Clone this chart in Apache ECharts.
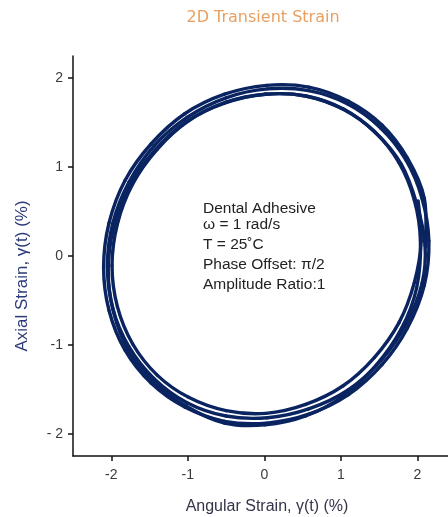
<!DOCTYPE html>
<html>
<head>
<meta charset="utf-8">
<script src="https://cdn.jsdelivr.net/npm/echarts@6/dist/echarts.min.js"></script>
<style>
  html, body { margin: 0; padding: 0; background: #ffffff; }
  #chart { width: 448px; height: 517px; }
</style>
</head>
<body>
<div id="chart"></div>
<script>
// Successive strain cycles, angular (x) and axial (y) strain in %
const angularCycle1 = [2.11, 2.09, 1.87, 1.54, 1.10, 0.58, 0.03, -0.52, -1.04, -1.48, -1.82, -2.03, -2.10, -2.03, -1.82, -1.48, -1.04, -0.52, 0.03, 0.58, 1.10, 1.54, 1.87, 2.09];
const axialCycle1   = [0.10, 0.65, 1.10, 1.47, 1.74, 1.90, 1.92, 1.82, 1.60, 1.26, 0.85, 0.37, -0.13, -0.61, -1.06, -1.43, -1.70, -1.86, -1.88, -1.78, -1.56, -1.22, -0.81, -0.33];

const angularCycle2 = [2.15, 2.06, 1.85, 1.52, 1.09, 0.58, 0.04, -0.50, -1.01, -1.44, -1.77, -1.98, -2.05, -1.98, -1.77, -1.44, -1.01, -0.50, 0.04, 0.58, 1.09, 1.52, 1.85, 2.06];
const axialCycle2   = [0.17, 0.65, 1.08, 1.44, 1.71, 1.86, 1.88, 1.78, 1.56, 1.24, 0.83, 0.37, -0.11, -0.59, -1.02, -1.38, -1.65, -1.80, -1.82, -1.72, -1.51, -1.18, -0.77, -0.31];

const angularCycle3 = [2.10, 1.99, 1.79, 1.46, 1.04, 0.54, 0.01, -0.52, -1.02, -1.44, -1.77, -1.97, -2.04, -1.97, -1.77, -1.44, -1.02, -0.52, 0.01, 0.54, 1.04, 1.46, 1.79, 1.99];
const axialCycle3   = [0.12, 0.59, 1.03, 1.38, 1.65, 1.80, 1.82, 1.72, 1.51, 1.18, 0.78, 0.32, -0.16, -0.63, -1.07, -1.42, -1.69, -1.88, -1.90, -1.80, -1.57, -1.23, -0.82, -0.36];

const angularCycle4 = [2.04, 1.96, 1.76, 1.44, 1.03, 0.54, 0.02, -0.50, -0.99, -1.40, -1.72, -1.92, -1.99, -1.92, -1.72, -1.40, -0.99, -0.50, 0.02, 0.54, 1.03, 1.44, 1.76, 1.96, 2.05, 2.01];
const axialCycle4   = [0.17, 0.63, 1.05, 1.40, 1.65, 1.80, 1.82, 1.73, 1.52, 1.20, 0.81, 0.36, -0.11, -0.57, -0.99, -1.34, -1.59, -1.74, -1.77, -1.67, -1.46, -1.14, -0.75, -0.30, 0.17, 0.62];

const xTickValues = [-2, -1, 0, 1, 2];
const xTickLabels = ['-2', '-1', '0', '1', '2'];
const yTickValues = [-2, -1, 0, 1, 2];
const yTickLabels = ['- 2', '-1', '0', '1', '2'];

const noteLines = [
  'Dental Adhesive',
  'ω = 1 rad/s',
  'T = 25˚C',
  'Phase Offset: π/2',
  'Amplitude Ratio:1'
];

// one continuous trajectory through all cycles
const angular = [].concat(angularCycle1, angularCycle2, angularCycle3, angularCycle4);
const axial = [].concat(axialCycle1, axialCycle2, axialCycle3, axialCycle4);
const path = angular.map((x, i) => [x, axial[i]]);

const chart = echarts.init(document.getElementById('chart'), null, { renderer: 'canvas' });

const labelFont = { color: '#3a3a3a', fontSize: 14, fontFamily: 'Liberation Sans, Arial, sans-serif' };
const noteY = [209, 225, 245, 265, 285];
const traceColor = '#0a2461';

// Each item draws the stretch from its point to the next one as a
// Catmull-Rom cubic, so the trace runs smoothly around the loops.
function renderSegment(params, api) {
  const i = params.dataIndex;
  const n = path.length;
  if (i >= n - 1) return null;
  const p0 = api.coord(path[Math.max(i - 1, 0)]);
  const p1 = api.coord(path[i]);
  const p2 = api.coord(path[i + 1]);
  const p3 = api.coord(path[Math.min(i + 2, n - 1)]);
  return {
    type: 'bezierCurve',
    shape: {
      x1: p1[0], y1: p1[1],
      x2: p2[0], y2: p2[1],
      cpx1: p1[0] + (p2[0] - p0[0]) / 6,
      cpy1: p1[1] + (p2[1] - p0[1]) / 6,
      cpx2: p2[0] - (p3[0] - p1[0]) / 6,
      cpy2: p2[1] - (p3[1] - p1[1]) / 6
    },
    style: { stroke: traceColor, lineWidth: 3.4, fill: null, lineCap: 'round' }
  };
}

chart.setOption({
  animation: false,
  backgroundColor: '#ffffff',
  grid: { left: 73, top: 56, width: 375, height: 400, containLabel: false },
  xAxis: {
    type: 'value',
    min: -2.5,
    max: 2.4,
    axisLine: { show: true, onZero: false, lineStyle: { color: '#111111', width: 1.5 } },
    axisTick: { show: true, length: 5, customValues: xTickValues, lineStyle: { color: '#111111', width: 1.5 } },
    axisLabel: {
      ...labelFont,
      margin: 12,
      customValues: xTickValues,
      formatter: v => xTickLabels[xTickValues.indexOf(Math.round(v))]
    },
    splitLine: { show: false }
  },
  yAxis: {
    type: 'value',
    min: -2.25,
    max: 2.25,
    axisLine: { show: true, onZero: false, lineStyle: { color: '#111111', width: 1.5 } },
    axisTick: { show: true, length: 5, customValues: yTickValues, lineStyle: { color: '#111111', width: 1.5 } },
    axisLabel: {
      ...labelFont,
      margin: 10,
      customValues: yTickValues,
      formatter: v => yTickLabels[yTickValues.indexOf(Math.round(v))]
    },
    splitLine: { show: false }
  },
  graphic: [
    {
      type: 'text', x: 263, y: 18,
      style: { text: '2D Transient Strain', fill: '#e8a062', font: '16px "DejaVu Sans", sans-serif', align: 'center', verticalAlign: 'middle' }
    },
    {
      type: 'text', x: 267, y: 507,
      style: { text: 'Angular Strain, γ(t) (%)', fill: '#34344a', font: '16px "Liberation Sans", Arial, sans-serif', align: 'center', verticalAlign: 'middle' }
    },
    {
      type: 'text', x: 22, y: 276, rotation: Math.PI / 2,
      style: { text: 'Axial Strain, γ(t) (%)', fill: '#2c3a78', font: '17px "Liberation Sans", Arial, sans-serif', align: 'center', verticalAlign: 'middle' }
    },
    ...noteLines.map((t, i) => ({
      type: 'text', x: 203, y: noteY[i],
      style: { text: t, fill: '#222222', font: '15.5px "Liberation Sans", Arial, sans-serif', align: 'left', verticalAlign: 'middle' }
    }))
  ],
  series: [{
    type: 'custom',
    coordinateSystem: 'cartesian2d',
    data: path,
    encode: { x: 0, y: 1 },
    renderItem: renderSegment,
    clip: false
  }]
});
</script>
</body>
</html>
